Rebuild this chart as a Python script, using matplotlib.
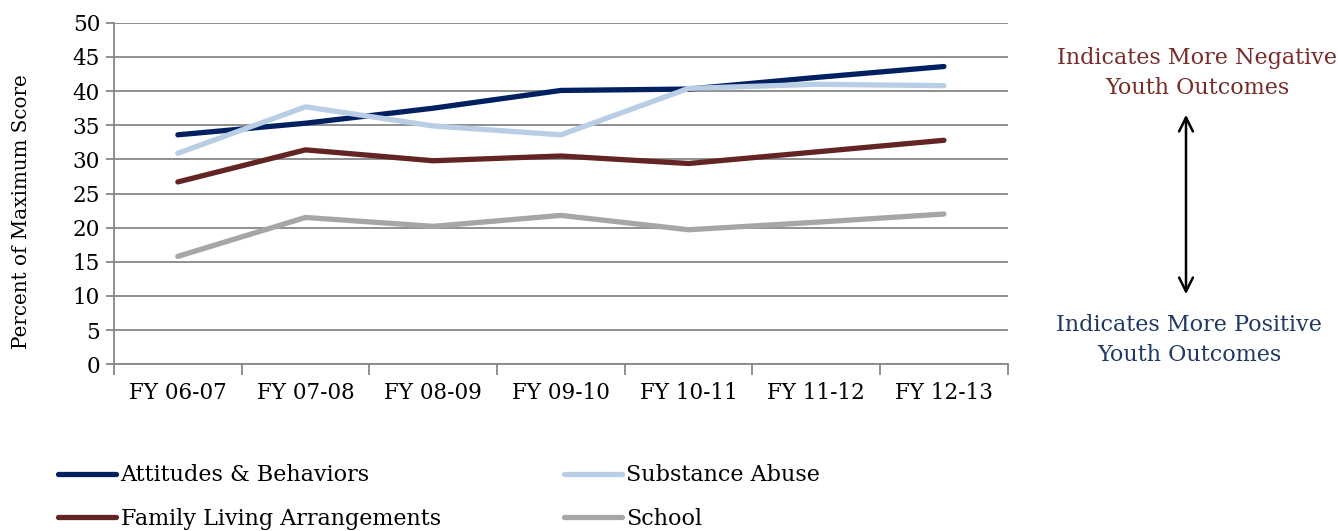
import numpy as np
import matplotlib.pyplot as plt
from matplotlib.patches import FancyArrowPatch

plt.rcParams['font.family'] = ['DejaVu Serif']

years = ["FY 06-07", "FY 07-08", "FY 08-09", "FY 09-10", "FY 10-11", "FY 11-12", "FY 12-13"]
attitudes = [33.6, 35.3, 37.5, 40.1, 40.3, 42.0, 43.6]
substance = [30.9, 37.7, 34.9, 33.6, 40.4, 41.0, 40.8]
family = [26.7, 31.4, 29.8, 30.5, 29.4, 31.1, 32.8]
school = [15.8, 21.5, 20.2, 21.8, 19.7, 20.8, 22.0]

names = ["Attitudes & Behaviors", "Substance Abuse", "Family Living Arrangements", "School"]
colors = ["#002060", "#B9CDE5", "#632523", "#A6A6A6"]

fig = plt.figure(figsize=(13.38, 5.31), dpi=100)
ax = fig.add_axes([0.0852, 0.314, 0.668, 0.643])

x = np.arange(len(years))
lines = {}
for name, vals, c in zip(names, [attitudes, substance, family, school], colors):
    lines[name], = ax.plot(x, vals, color=c, lw=3.8, solid_capstyle='round',
                           solid_joinstyle='round', zorder=3)

ax.set_xlim(-0.5, len(years) - 0.5)
ax.set_ylim(0, 50)
ax.set_yticks(np.arange(0, 51, 5))
ax.yaxis.grid(True, color='#878787', lw=1.3)
ax.set_axisbelow(True)

# category labels centred, tick marks on the boundaries
ax.set_xticks(x)
ax.set_xticklabels(years)
ax.set_xticks(np.arange(-0.5, len(years)), minor=True)
ax.tick_params(axis='x', which='major', length=0, pad=13, labelsize=15.5)
ax.tick_params(axis='x', which='minor', length=8, width=1.3, color='#878787')
ax.tick_params(axis='y', length=6, width=1.3, color='#878787', labelsize=15.5, pad=4)

for s in ['top', 'right']:
    ax.spines[s].set_visible(False)
for s in ['left', 'bottom']:
    ax.spines[s].set_color('#878787')
    ax.spines[s].set_linewidth(1.3)

fig.text(22 / 1338, 1 - 212 / 531, "Percent of Maximum Score", rotation=90,
         ha='center', va='center', fontsize=14.3)

order = [names[0], names[2], names[1], names[3]]
fig.legend([lines[n] for n in order], order, ncol=2, loc='upper left',
           bbox_to_anchor=(0.037, 0.142), frameon=False, fontsize=16,
           handlelength=2.6, handletextpad=0.2, labelspacing=0.95,
           columnspacing=5.55, borderaxespad=0)

# outcome direction annotation
fig.text(0.8946, 0.862, "Indicates More Negative\nYouth Outcomes", ha='center', va='center',
         fontsize=16, color='#772C2A', linespacing=1.45)
fig.text(0.8886, 0.36, "Indicates More Positive\nYouth Outcomes", ha='center', va='center',
         fontsize=16, color='#1F3864', linespacing=1.45)
fig.add_artist(FancyArrowPatch(
    (0.8864, 1 - 297 / 531), (0.8864, 1 - 112 / 531), transform=fig.transFigure,
    arrowstyle='<->,head_length=10,head_width=5', color='black', lw=1.8))

fig.savefig("out.png", dpi=100)
